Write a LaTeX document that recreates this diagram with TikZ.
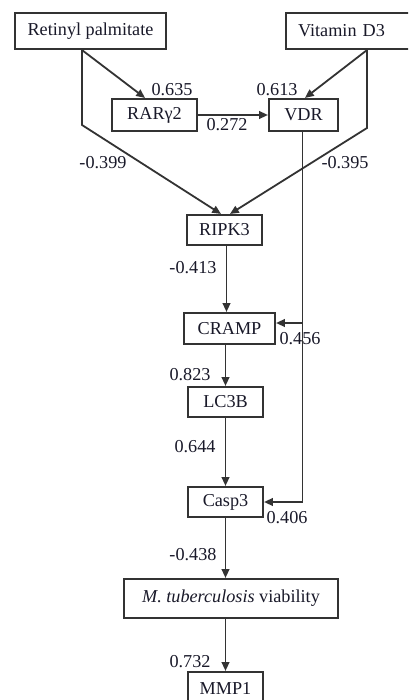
\documentclass[tikz,border=0pt]{standalone}
\usepackage{fontspec}
\setmainfont{Liberation Serif}
\usetikzlibrary{arrows.meta,calc}
\newcommand\pxu{0.5pt}
\definecolor{ink}{rgb}{0.10,0.10,0.16}
\definecolor{edge}{rgb}{0.2,0.2,0.2}
\tikzset{
  box/.style={draw=edge, line width=1.05pt, inner sep=0pt, text=ink,
    font=\fontsize{9.1}{11}\selectfont},
  lab/.style={inner sep=0pt, text=ink, font=\fontsize{9.1}{11}\selectfont},
  conn/.style={draw=edge, line width=0.9pt},
  arr/.style={conn, -{Triangle[length=4.4pt,width=3.8pt]}},
}
\begin{document}
\begin{tikzpicture}[x=0.5pt,y=-0.5pt]
\useasboundingbox (0,0) rectangle (408,700);
\clip (0,0) rectangle (408,700);
\fill[white] (0,0) rectangle (408,700);

% boxes
\node[box, minimum width=151*\pxu, minimum height=36*\pxu] (rp) at (90.5,31) {Retinyl palmitate};
\node[box, anchor=west, minimum height=36*\pxu, text width=106*\pxu, inner xsep=12*\pxu, align=left] (vd) at (285,31) {Vitamin D3};
\node[box, minimum width=85*\pxu, minimum height=32*\pxu] (rar) at (154.5,115) {RARγ2};
\node[box, minimum width=69*\pxu, minimum height=32*\pxu] (vdr) at (303.5,115) {VDR};
\node[box, minimum width=75*\pxu, minimum height=30*\pxu] (ripk) at (224.5,230) {RIPK3};
\node[box, minimum width=91*\pxu, minimum height=31*\pxu] (cramp) at (229.5,328.5) {CRAMP};
\node[box, minimum width=75*\pxu, minimum height=30*\pxu] (lc3b) at (225.5,402) {LC3B};
\node[box, minimum width=75*\pxu, minimum height=30*\pxu] (casp) at (225.5,502) {Casp3};
\node[box, minimum width=214*\pxu, minimum height=39*\pxu] (mtb) at (231,598.5) {\textit{M. tuberculosis} viability};
\node[box, minimum width=75*\pxu, minimum height=32*\pxu] (mmp) at (225.5,688) {MMP1};

% branch points
\coordinate (rpo) at ($(rp.south)+(-8.5,0)$);
\coordinate (vdo) at ($(vd.south west)+(82,0)$);
\coordinate (rpk) at (rpo |- 0,125);
\coordinate (vdk) at (vdo |- 0,128);
\coordinate (vline) at ($(vdr.south)+(-1,0)$);
\coordinate (vc) at (vline |- 0,323);
\coordinate (vk) at (vline |- 0,502);

% connectors
\draw[arr] (rpo) -- ($(rar.north)+(-9.5,0)$);
\draw[arr] (vdo) -- ($(vdr.north)+(1.5,0)$);
\draw[arr] (rar.east) -- (vdr.west);
\draw[arr] (rpo) -- (rpk) -- ($(ripk.north)+(-3.5,0)$);
\draw[arr] (vdo) -- (vdk) -- ($(ripk.north)+(5.5,0)$);
\draw[conn] (vline) -- (vk);
\draw[arr] (vc) -- (vc -| cramp.east);
\draw[arr] (vk) -- (vk -| casp.east);
\draw[arr] ($(ripk.south)+(2,0)$) -- ($(cramp.north)+(-3,0)$);
\draw[arr] ($(cramp.south)+(-4,0)$) -- (lc3b.north);
\draw[arr] (lc3b.south) -- (casp.north);
\draw[arr] (casp.south) -- ($(mtb.north)+(-5.5,0)$);
\draw[arr] ($(mtb.south)+(-5.5,0)$) -- (mmp.north);

% path coefficients
\node[lab] (l1) at (172,90) {0.635};
\node[lab] (l2) at (277,90) {0.613};
\node[lab] (l3) at (227,125) {0.272};
\node[lab] (l4) at (103,163) {-0.399};
\node[lab] (l5) at (345,163) {-0.395};
\node[lab] (l6) at (193,268) {-0.413};
\node[lab] (l7) at (300,339) {0.456};
\node[lab] (l8) at (190,375) {0.823};
\node[lab] (l9) at (195,447) {0.644};
\node[lab] (l10) at (287,518) {0.406};
\node[lab] (l11) at (193,555) {-0.438};
\node[lab] (l12) at (190,662) {0.732};
\end{tikzpicture}
\end{document}
